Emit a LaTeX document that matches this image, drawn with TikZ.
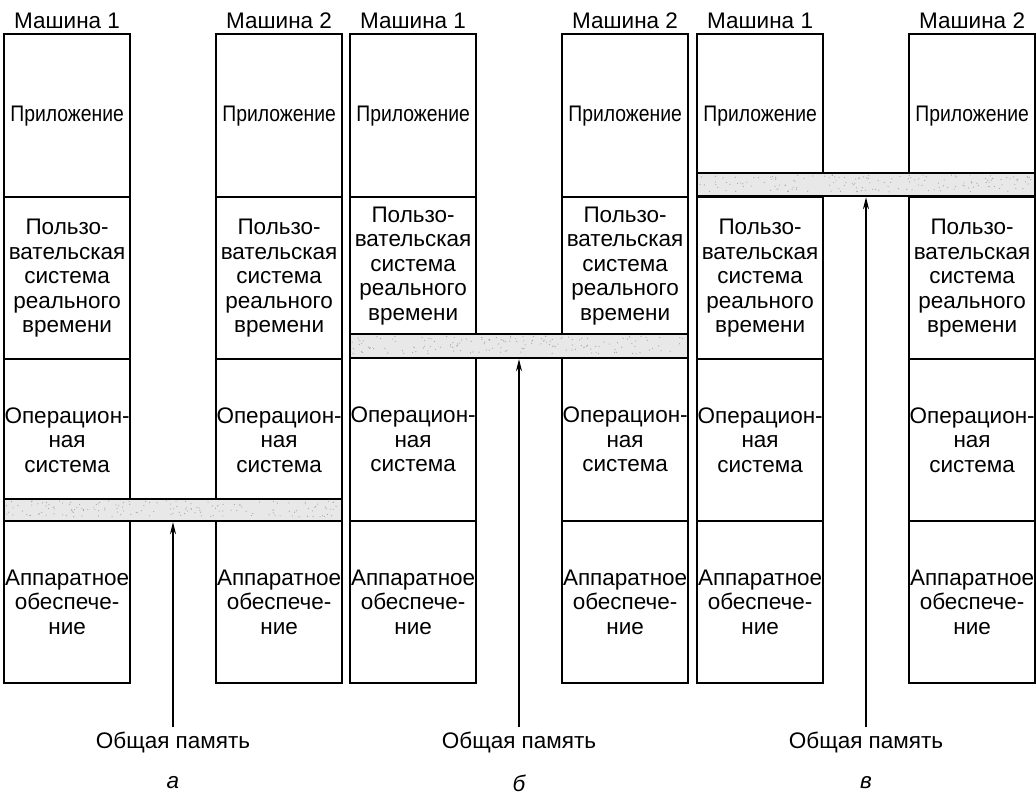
\documentclass[tikz,border=0pt]{standalone}
\usepackage{fontspec}
\setmainfont{Liberation Sans}
\usetikzlibrary{arrows.meta, positioning}

\tikzset{
  layer/.style={draw, line width=2.2pt, minimum width=126pt, inner sep=0pt, anchor=north west, align=center, font=\fontsize{22.5}{24.5}\selectfont},
  band/.style={draw, line width=2.2pt, fill=gray!18, minimum width=338pt, inner sep=0pt, anchor=north west},
  title/.style={font=\fontsize{22.5}{24}\selectfont, inner sep=2pt},
  memlabel/.style={font=\fontsize{22.5}{24}\selectfont, inner sep=4pt},
  memarrow/.style={line width=1.3pt, -{Stealth[length=12pt, width=6pt]}}
}

\begin{document}
\begin{tikzpicture}[x=1pt, y=-1pt]
\useasboundingbox (0,0) rectangle (1036,796);
% three variants: a, b, c
\foreach \p/\xo/\usb/\osa/\bda/\bdb/\lab in {
    a/0/358/358/498/520/а,
    b/346/333/357/333/357/б,
    c/693/358/358/172/195/в} {
  \pgfmathsetmacro{\hu}{\usb-196}
  \pgfmathsetmacro{\ho}{520-\osa}
  \pgfmathsetmacro{\hb}{\bdb-\bda}
  % two machines
  \foreach \m/\mx in {1/3, 2/215} {
    \pgfmathsetmacro{\mxx}{\xo+\mx}
    \node[layer, minimum height=163pt] (app-\p-\m) at (\mxx,33) {\scalebox{0.86}[1]{Приложение}};
    \node[layer, minimum height=\hu pt] (user-\p-\m) at (\mxx,196) {Пользо-\\вательская\\система\\реального\\времени};
    \node[layer, minimum height=\ho pt] (os-\p-\m) at (\mxx,\osa) {Операцион-\\ная\\система};
    \node[layer, minimum height=162pt] (hw-\p-\m) at (\mxx,520) {Аппаратное\\обеспече-\\ние};
    \node[title, above=2pt of app-\p-\m] (name-\p-\m) {Машина \m};
  }
  % shared memory
  \node[band, minimum height=\hb pt] (band-\p) at (\xo+3,\bda) {};
  \foreach \i in {1,...,160} {
    \pgfmathsetmacro{\rx}{\xo+6+rnd*332}
    \pgfmathsetmacro{\ry}{\bda+3+rnd*(\hb-6)}
    \fill[gray!70] (\rx,\ry) circle (0.6);
  }
  \pgfmathsetmacro{\ax}{\xo+173}
  \node[memlabel] (mem-\p) at (\ax,742) {Общая память};
  \draw[memarrow] (mem-\p.north) -- (mem-\p.north |- band-\p.south);
  \node[memlabel, font=\fontsize{22.5}{24}\selectfont\itshape] (lab-\p) at (\ax,783) {\lab};
}
\end{tikzpicture}
\end{document}
